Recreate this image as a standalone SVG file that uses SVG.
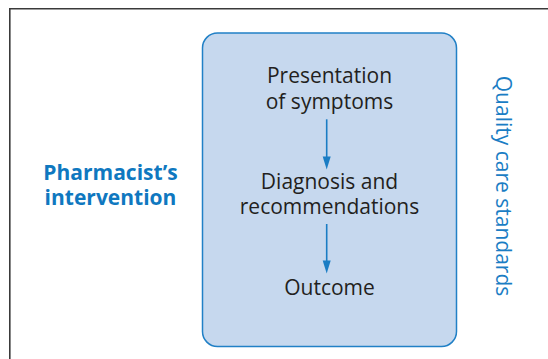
<svg xmlns="http://www.w3.org/2000/svg" width="548" height="359" viewBox="0 0 548 359">
<defs>
<style>
.t{font-family:"Open Sans","Noto Sans",sans-serif;font-size:21px;fill:#231f20;text-anchor:middle}
.b{font-family:"Open Sans","Noto Sans",sans-serif;font-size:21px;font-weight:bold;fill:#0f78c0;text-anchor:middle}
.v{font-family:"Open Sans","Noto Sans",sans-serif;font-size:21px;fill:#1a7dc4;text-anchor:middle}
.c{stroke:#1a7dc4;stroke-width:1.6;fill:none}
.h{fill:#1a7dc4}
</style>
</defs>
<rect width="548" height="359" fill="#ffffff"/>
<path d="M9.8,359 V8.7 H548" fill="none" stroke="#3a3a3a" stroke-width="1.6"/>
<g id="process">
<rect x="202.5" y="33" width="254" height="313.5" rx="15" ry="15" fill="#c6d8ee" stroke="#2180c6" stroke-width="1.5"/>
</g>
<g id="presentation">
<text class="t" x="329.5" y="83.4">Presentation<tspan x="329.5" dy="25.4">of symptoms</tspan></text>
</g>
<g id="diagnosis">
<text class="t" x="329.5" y="188.9">Diagnosis and<tspan x="329.5" dy="25.4">recommendations</tspan></text>
</g>
<g id="outcome">
<text class="t" x="329.5" y="295">Outcome</text>
</g>
<g id="intervention">
<text class="b" x="110.5" y="179.5">Pharmacist’s<tspan x="110.5" dy="25.5">intervention</tspan></text>
</g>
<g id="standards">
<text class="v" transform="translate(496,186) rotate(90)" x="0" y="0">Quality care standards</text>
</g>
<g id="connectors">
<line class="c" x1="326.7" y1="119.3" x2="326.7" y2="158"/>
<path class="h" d="M322.7,156.5 L330.7,156.5 L326.7,169.5 Z"/>
<line class="c" x1="326.7" y1="224" x2="326.7" y2="262"/>
<path class="h" d="M322.7,260.5 L330.7,260.5 L326.7,273.5 Z"/>
</g>
</svg>
